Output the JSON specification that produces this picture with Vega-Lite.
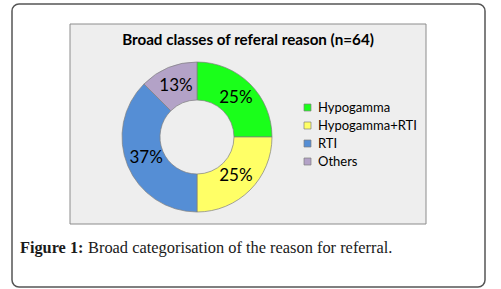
{
  "$schema": "https://vega.github.io/schema/vega-lite/v6.json",
  "width": 473,
  "height": 283,
  "autosize": {"type": "none"},
  "padding": {"left": 12, "top": 4, "right": 16, "bottom": 2},
  "background": "white",
  "config": {"view": {"stroke": "#555555", "strokeWidth": 1.5, "cornerRadius": 7, "fill": "white"}},
  "data": {"values": [
    {"reason": "Hypogamma", "count": 16, "label": "25%", "idx": 1},
    {"reason": "Hypogamma+RTI", "count": 16, "label": "25%", "idx": 2},
    {"reason": "RTI", "count": 24, "label": "37%", "idx": 3},
    {"reason": "Others", "count": 8, "label": "13%", "idx": 4}
  ]},
  "layer": [
    {
      "data": {"values": [{}]},
      "mark": {"type": "rect", "fill": "#eeeeee", "stroke": "#8c8c8c", "strokeWidth": 1},
      "encoding": {"x": {"value": 58}, "x2": {"value": 414}, "y": {"value": 20}, "y2": {"value": 220}}
    },
    {
      "data": {"values": [{}]},
      "mark": {"type": "text", "text": "Broad classes of referal reason (n=64)", "font": "Lato", "fontWeight": "bold", "fontSize": 15.2, "align": "center", "baseline": "alphabetic", "color": "#000000"},
      "encoding": {"x": {"value": 236}, "y": {"value": 41}}
    },
    {
      "mark": {"type": "arc", "outerRadius": 75, "innerRadius": 37, "stroke": "#7f7f7f", "strokeWidth": 0.7, "x": 185, "y": 133},
      "encoding": {
        "theta": {"field": "count", "type": "quantitative", "stack": true},
        "order": {"field": "idx", "type": "quantitative"},
        "color": {
          "field": "reason", "type": "nominal",
          "scale": {"domain": ["Hypogamma", "Hypogamma+RTI", "RTI", "Others"], "range": ["#1aff1a", "#ffff66", "#558ed5", "#b3a2c7"]},
          "legend": {"orient": "none", "legendX": 289, "legendY": 97, "title": null, "symbolType": "square", "symbolSize": 49, "symbolStrokeColor": "#7f7f7f", "symbolStrokeWidth": 0.7, "labelFont": "Lato", "labelFontSize": 13, "labelColor": "#000000", "labelOffset": 4, "rowPadding": 4, "padding": 0}
        }
      }
    },
    {
      "mark": {"type": "text", "radius": 55, "x": 185, "y": 133, "font": "Lato", "fontSize": 17, "color": "#000000"},
      "encoding": {
        "theta": {"field": "count", "type": "quantitative", "stack": true},
        "order": {"field": "idx", "type": "quantitative"},
        "text": {"field": "label"}
      }
    },
    {
      "data": {"values": [{}]},
      "mark": {"type": "text", "text": "Figure 1:", "font": "Liberation Serif", "fontWeight": "bold", "fontSize": 16.3, "align": "left", "baseline": "alphabetic", "color": "#1a1a1a"},
      "encoding": {"x": {"value": 8}, "y": {"value": 249}}
    },
    {
      "data": {"values": [{}]},
      "mark": {"type": "text", "text": "Broad categorisation of the reason for referral.", "font": "Liberation Serif", "fontSize": 16.4, "align": "left", "baseline": "alphabetic", "color": "#1a1a1a"},
      "encoding": {"x": {"value": 76}, "y": {"value": 249}}
    }
  ]
}
